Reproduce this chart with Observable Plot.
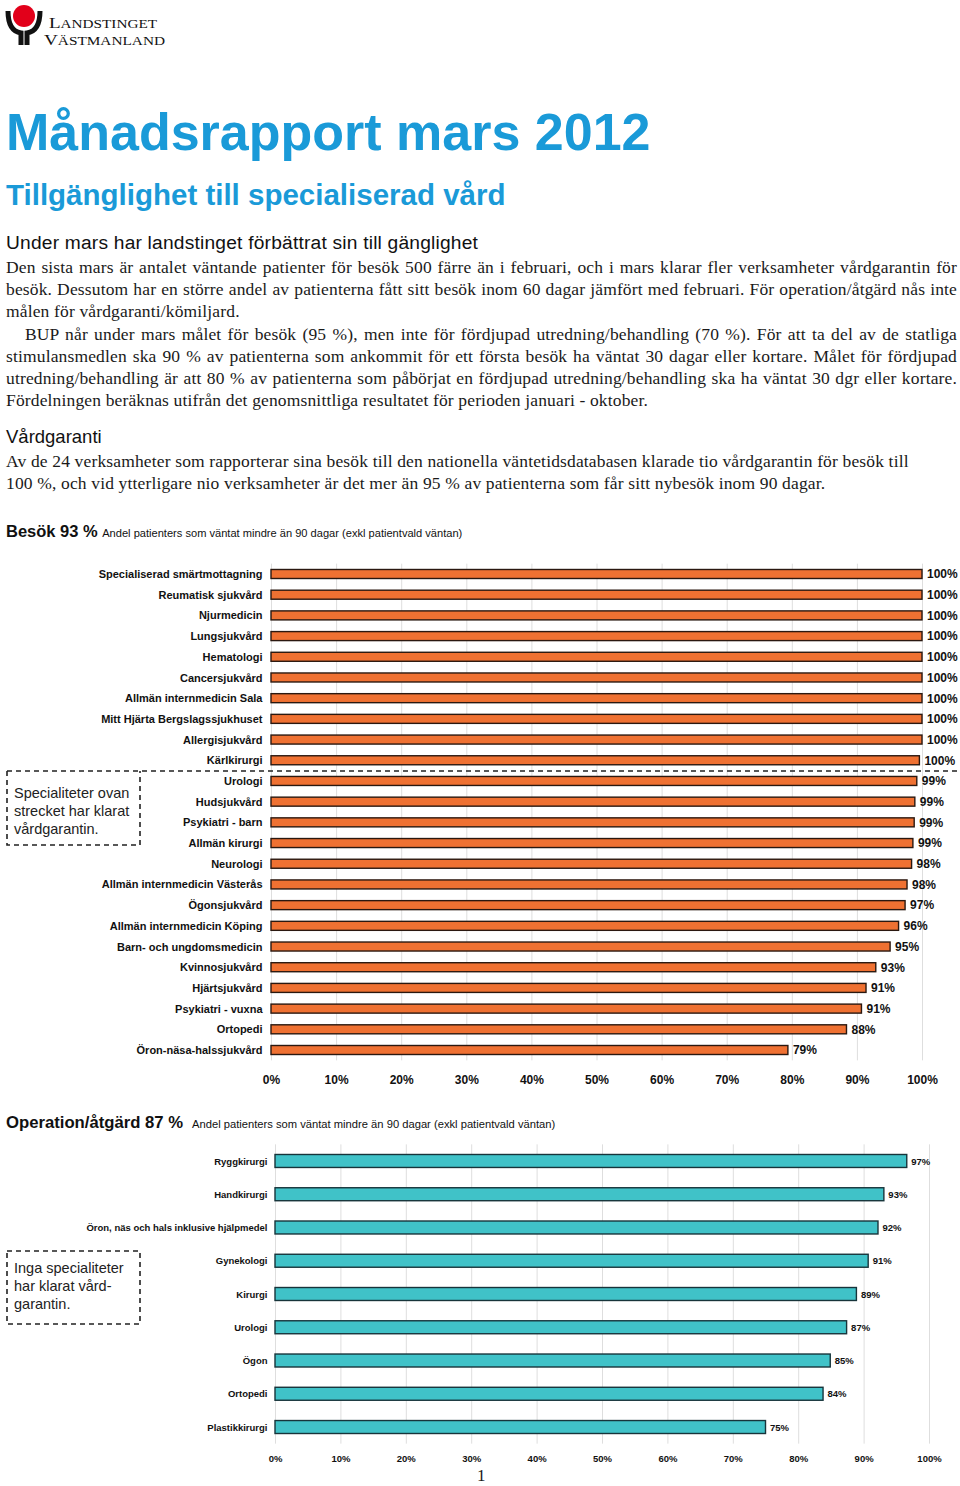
<!DOCTYPE html>
<html lang="sv">
<head>
<meta charset="utf-8">
<script src="https://cdn.jsdelivr.net/npm/d3@7"></script>
<script src="https://cdn.jsdelivr.net/npm/@observablehq/plot@0.6"></script>
<style>
  html, body { margin: 0; padding: 0; background: #fff; }
  #page { position: relative; width: 960px; height: 1486px; overflow: hidden; font-family: "Liberation Sans", Arial, sans-serif; color: #111; }
  .abs { position: absolute; white-space: nowrap; }
  .serif { font-family: "Liberation Serif", "Times New Roman", serif; font-size: 17.5px; letter-spacing: 0.15px; color: #1a1a1a; }
  .jl { text-align: justify; text-align-last: justify; white-space: normal; }
  .body { position: absolute; left: 6px; width: 951px; line-height: 22.2px; }
  .chart { position: absolute; left: 0; }
  .note { font-size: 14.5px; line-height: 18px; color: #222; }
</style>
</head>
<body>
<div id="page">
  <!-- logo -->
  <svg class="abs" style="left:0;top:0" width="175" height="50">
    <circle cx="24" cy="16" r="11" fill="#e2001a"/>
    <path d="M8,11 Q8,31 21,33 L21,45" fill="none" stroke="#111" stroke-width="5"/>
    <path d="M40,11 Q40,31 27,33 L27,45" fill="none" stroke="#111" stroke-width="5"/>
    <text x="49" y="28" font-family="Liberation Serif, serif" fill="#111" font-size="15" textLength="108" lengthAdjust="spacingAndGlyphs">L<tspan font-size="12">ANDSTINGET</tspan></text>
    <text x="44" y="45" font-family="Liberation Serif, serif" fill="#111" font-size="15" textLength="121" lengthAdjust="spacingAndGlyphs">V<tspan font-size="12">ÄSTMANLAND</tspan></text>
  </svg>

  <div class="abs" style="left:6px;top:106px;font-size:52px;line-height:52px;font-weight:bold;color:#1a9ad8;">Månadsrapport mars 2012</div>
  <div class="abs" style="left:6px;top:180px;font-size:29.5px;line-height:29.5px;font-weight:bold;color:#1a9ad8;">Tillgänglighet till specialiserad vård</div>
  <div class="abs" style="left:6px;top:233px;font-size:19.2px;line-height:20px;letter-spacing:0.2px;color:#111;">Under mars har landstinget förbättrat sin till gänglighet</div>

  <div class="body serif" style="top:256px;">
    <div class="jl">Den sista mars är antalet väntande patienter för besök 500 färre än i februari, och i mars klarar fler verksamheter vårdgarantin för</div>
    <div class="jl">besök. Dessutom har en större andel av patienterna fått sitt besök inom 60 dagar jämfört med februari. För operation/åtgärd nås inte</div>
    <div>målen för vårdgaranti/kömiljard.</div>
    <div class="jl" style="padding-left:19px;">BUP når under mars målet för besök (95 %), men inte för fördjupad utredning/behandling (70 %). För att ta del av de statliga</div>
    <div class="jl">stimulansmedlen ska 90 % av patienterna som ankommit för ett första besök ha väntat 30 dagar eller kortare. Målet för fördjupad</div>
    <div class="jl">utredning/behandling är att 80 % av patienterna som påbörjat en fördjupad utredning/behandling ska ha väntat 30 dgr eller kortare.</div>
    <div>Fördelningen beräknas utifrån det genomsnittliga resultatet för perioden januari - oktober.</div>
  </div>

  <div class="abs" style="left:6px;top:427px;font-size:18.5px;line-height:20px;color:#111;">Vårdgaranti</div>
  <div class="body serif" style="top:450px;">
    <div>Av de 24 verksamheter som rapporterar sina besök till den nationella väntetidsdatabasen klarade tio vårdgarantin för besök till</div>
    <div>100 %, och vid ytterligare nio verksamheter är det mer än 95 % av patienterna som får sitt nybesök inom 90 dagar.</div>
  </div>

  <div class="abs" style="left:6px;top:521px;line-height:20px;color:#111;"><span style="font-size:16.5px;font-weight:bold;">Besök 93 %</span> <span style="font-size:11.1px;">Andel patienters som väntat mindre än 90 dagar (exkl patientvald väntan)</span></div>

  <div id="chart1" class="chart" style="top:555px;"></div>

  <div class="abs" style="left:6px;top:1113px;line-height:20px;color:#111;"><span style="font-size:16.7px;font-weight:bold;">Operation/åtgärd 87 %</span>&nbsp; <span style="font-size:11.2px;">Andel patienters som väntat mindre än 90 dagar (exkl patientvald väntan)</span></div>

  <div id="chart2" class="chart" style="top:1140px;"></div>

  <!-- dashed annotation boxes -->
  <svg class="abs" style="left:0;top:0;pointer-events:none" width="960" height="1486">
    <g fill="none" stroke="#222" stroke-width="1.6" stroke-dasharray="5,4">
      <path d="M7,771 L958,771"/>
      <path d="M7,771 L7,845 L140,845 L140,771"/>
      <rect x="7" y="1251" width="133" height="73"/>
    </g>
  </svg>
  <div class="abs note" style="left:14px;top:784px;">Specialiteter ovan<br>strecket har klarat<br>vårdgarantin.</div>
  <div class="abs note" style="left:14px;top:1259px;">Inga specialiteter<br>har klarat vård-<br>garantin.</div>

  <div class="abs serif" style="left:477px;top:1466px;font-size:17px;line-height:20px;">1</div>
</div>

<script>
// ---------- data ----------
const besokCategories = [
  "Specialiserad smärtmottagning", "Reumatisk sjukvård", "Njurmedicin", "Lungsjukvård",
  "Hematologi", "Cancersjukvård", "Allmän internmedicin Sala", "Mitt Hjärta Bergslagssjukhuset",
  "Allergisjukvård", "Kärlkirurgi", "Urologi", "Hudsjukvård", "Psykiatri - barn", "Allmän kirurgi",
  "Neurologi", "Allmän internmedicin Västerås", "Ögonsjukvård", "Allmän internmedicin Köping",
  "Barn- och ungdomsmedicin", "Kvinnosjukvård", "Hjärtsjukvård", "Psykiatri - vuxna",
  "Ortopedi", "Öron-näsa-halssjukvård"
];
const besokValues = [
  100, 100, 100, 100, 100, 100, 100, 100, 100, 99.6,
  99.2, 98.9, 98.8, 98.6, 98.4, 97.7, 97.4, 96.4, 95.1, 92.9,
  91.4, 90.7, 88.4, 79.4
];
const opCategories = [
  "Ryggkirurgi", "Handkirurgi", "Öron, näs och hals inklusive hjälpmedel", "Gynekologi",
  "Kirurgi", "Urologi", "Ögon", "Ortopedi", "Plastikkirurgi"
];
const opValues = [96.6, 93.1, 92.2, 90.7, 88.9, 87.4, 84.9, 83.8, 75.0];
const xTicks = [0, 10, 20, 30, 40, 50, 60, 70, 80, 90, 100];

const orange = "#ef7132", orangeStroke = "#2a1810";
const teal = "#40c2c8", tealStroke = "#17343a";
const pct = d => d + "%";
const font = "'Liberation Sans', Arial, Helvetica, sans-serif";

const besok = besokCategories.map((c, i) => ({cat: c, value: besokValues[i]}));
const op = opCategories.map((c, i) => ({cat: c, value: opValues[i]}));

function chart({data, cats, width, height, mL, mR, mT, mB, pad, fill, stroke, sw, catSize, valSize, tickSize, tickPad, catPad, valDx}) {
  return Plot.plot({
    width, height,
    marginLeft: mL, marginRight: mR, marginTop: mT, marginBottom: mB,
    style: {fontFamily: font, fontWeight: "bold", color: "#111", background: "transparent", overflow: "visible"},
    x: {domain: [0, 100], label: null},
    y: {type: "band", domain: cats, paddingInner: pad, paddingOuter: pad / 2, round: false, label: null},
    marks: [
      Plot.ruleX(xTicks, {stroke: "#dedede", strokeWidth: 1}),
      Plot.barX(data, {x: "value", y: "cat", fill, stroke, strokeWidth: sw}),
      Plot.text(data, {x: "value", y: "cat", text: d => Math.round(d.value) + "%", dx: valDx,
        textAnchor: "start", fontSize: valSize, fontWeight: "bold", fill: "#111"}),
      Plot.axisX({ticks: xTicks, tickFormat: pct, tickSize: 0, tickPadding: tickPad, fontSize: tickSize, fontWeight: "bold", label: null}),
      Plot.axisY({tickSize: 0, tickPadding: catPad, fontSize: catSize, fontWeight: "bold", label: null})
    ]
  });
}

document.getElementById("chart1").append(chart({
  data: besok, cats: besokCategories, width: 960, height: 535,
  mL: 271, mR: 38, mT: 8.65, mB: 29.65, pad: 0.565,
  fill: orange, stroke: orangeStroke, sw: 1.4,
  catSize: 11, valSize: 12, tickSize: 12, tickPad: 14.3, catPad: 9, valDx: 4.5
}));

document.getElementById("chart2").append(chart({
  data: op, cats: opCategories, width: 960, height: 330,
  mL: 275, mR: 31, mT: 4.35, mB: 26.35, pad: 0.61,
  fill: teal, stroke: tealStroke, sw: 1.4,
  catSize: 9.5, valSize: 9.5, tickSize: 9.5, tickPad: 11, catPad: 8, valDx: 4
}));
</script>
</body>
</html>
